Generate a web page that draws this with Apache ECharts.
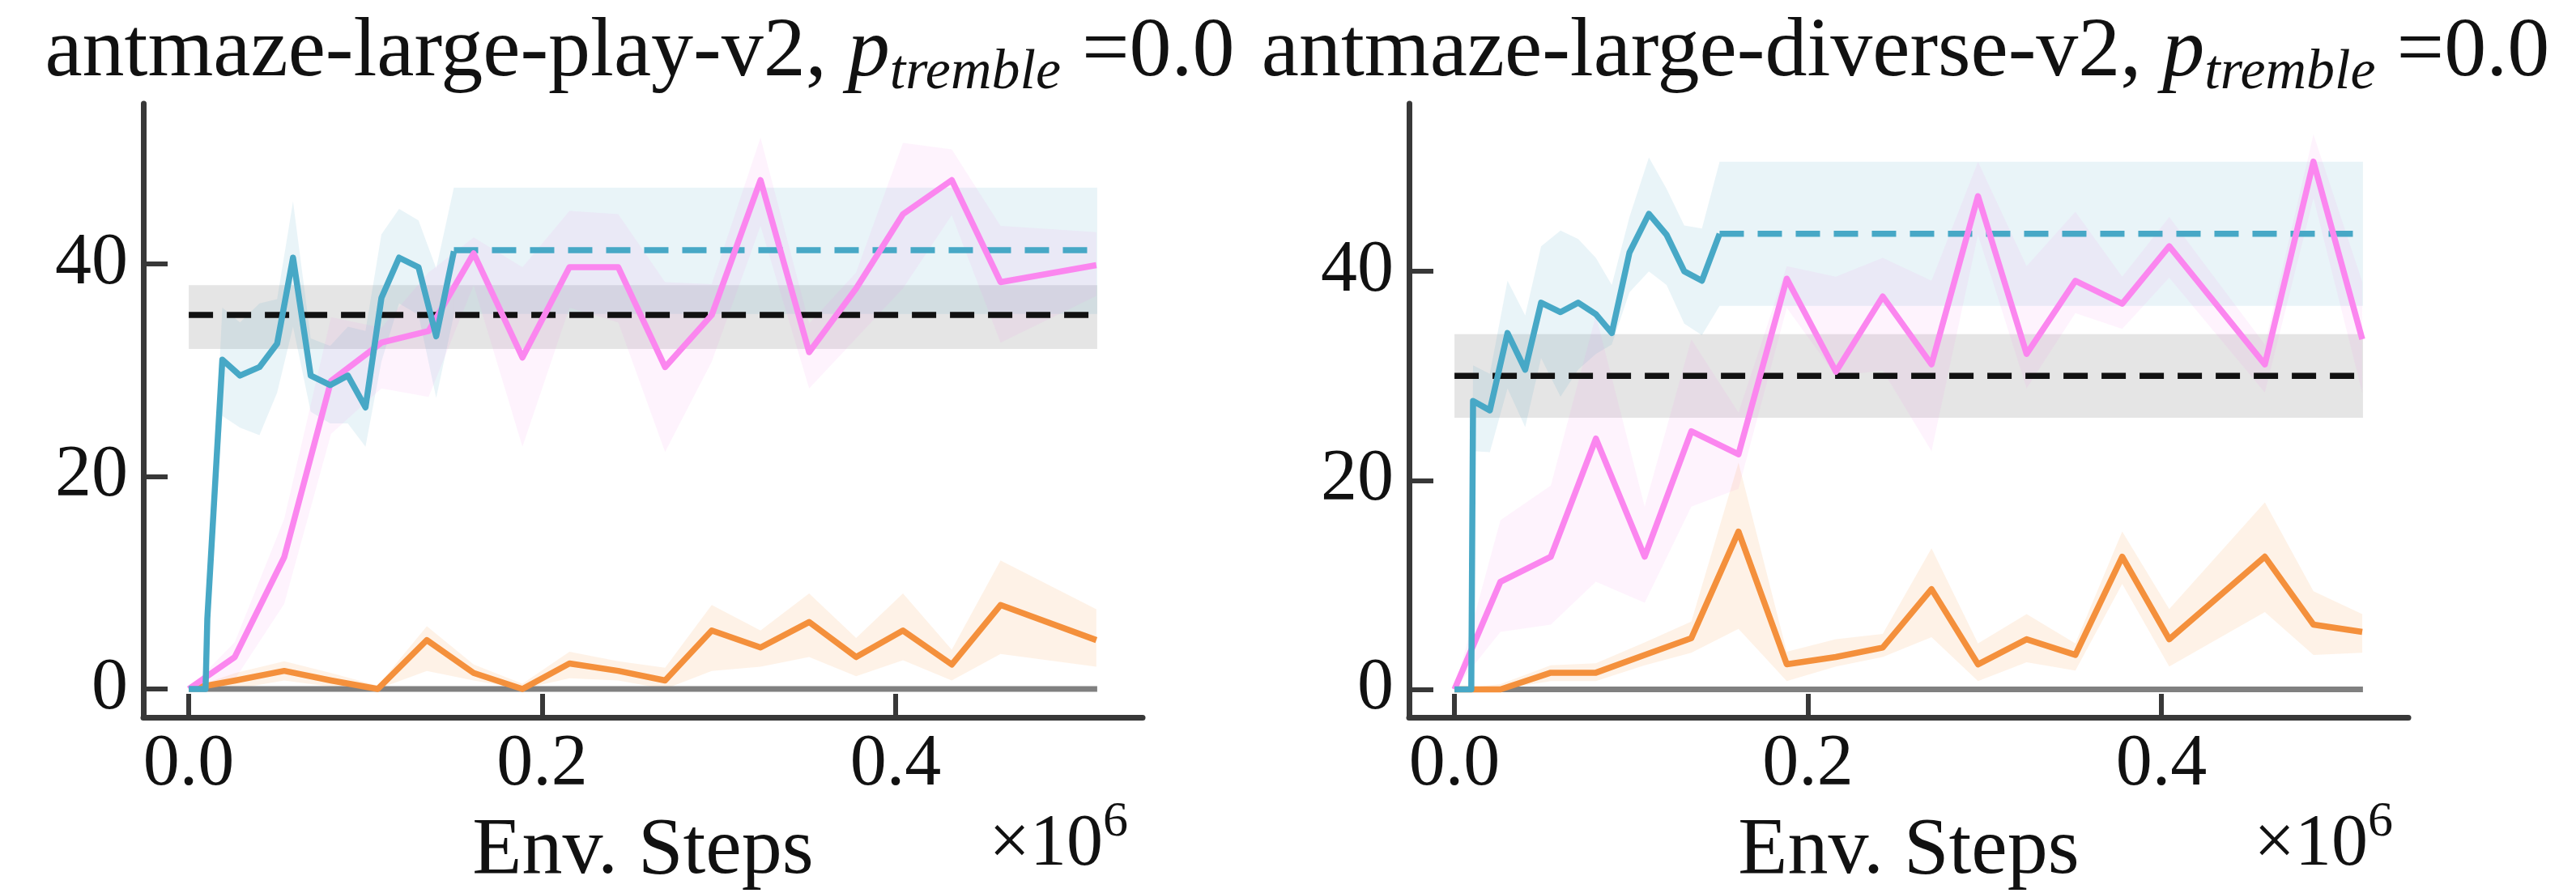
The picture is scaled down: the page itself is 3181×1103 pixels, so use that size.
<!DOCTYPE html>
<html>
<head>
<meta charset="utf-8">
<script src="https://cdn.jsdelivr.net/npm/echarts@6/dist/echarts.min.js"></script>
<style>
html,body{margin:0;padding:0;background:#fff}
#chart{width:3181px;height:1103px}
</style>
</head>
<body>
<div id="chart"></div>
<script>
// tick labels
var xTicks = [0, 0.2, 0.4];
var yTicks = [0, 20, 40];

// ---- antmaze-large-play-v2 ----
var playBlueX  = [0, 0.0095, 0.0105, 0.019, 0.029, 0.040, 0.050, 0.059, 0.069, 0.080, 0.090, 0.100, 0.109, 0.119, 0.130, 0.140, 0.150];
var playBlueY  = [0, 0, 6.6, 31.0, 29.5, 30.3, 32.5, 40.6, 29.5, 28.6, 29.5, 26.5, 36.8, 40.6, 39.7, 33.2, 41.2];
var playBlueHi = [0, 0, 6.8, 35.9, 34.5, 36.3, 36.7, 45.9, 33.0, 32.3, 34.1, 33.7, 42.8, 45.2, 44.1, 39.6, 47.2];
var playBlueLo = [0, 0, 6.4, 25.7, 24.6, 23.9, 27.9, 34.1, 26.1, 25.0, 25.0, 22.8, 30.8, 36.3, 35.2, 27.4, 35.2];

var playPinkX  = [0, 0.026, 0.054, 0.0805, 0.109, 0.1357, 0.1612, 0.1888, 0.2154, 0.243, 0.2695, 0.2959, 0.3235, 0.351, 0.3776, 0.4041, 0.4317, 0.4593, 0.5135];
var playPinkY  = [0, 3.0, 12.4, 29.0, 32.6, 33.7, 41.0, 31.2, 39.7, 39.7, 30.3, 35.2, 47.9, 31.7, 37.7, 44.7, 47.9, 38.3, 39.9];
var playPinkHi = [0, 4.4, 16.0, 35.0, 34.0, 39.2, 42.5, 39.7, 45.0, 44.7, 38.3, 38.1, 51.9, 34.4, 39.2, 51.4, 50.8, 43.6, 43.0];
var playPinkLo = [0, 0.9, 8.0, 24.0, 28.3, 27.5, 38.0, 22.8, 35.9, 34.5, 22.3, 30.8, 43.6, 28.3, 33.0, 37.7, 44.6, 32.6, 37.0];

var playOrangeX  = [0, 0.0264, 0.054, 0.0805, 0.107, 0.1347, 0.1612, 0.1888, 0.2154, 0.243, 0.2695, 0.2959, 0.3235, 0.351, 0.3776, 0.4041, 0.4317, 0.4593, 0.5135];
var playOrangeY  = [0, 0.8, 1.7, 0.8, 0, 4.6, 1.5, 0, 2.4, 1.7, 0.8, 5.5, 3.9, 6.3, 3.0, 5.5, 2.3, 7.9, 4.6];
var playOrangeHi = [0, 1.5, 2.6, 1.5, 0.3, 5.9, 2.3, 0.5, 3.5, 2.6, 2.0, 7.9, 5.5, 9.0, 4.8, 9.0, 3.7, 12.1, 7.5];
var playOrangeLo = [0, 0, 0.8, 0.2, 0, 1.7, 0.8, 0, 1.0, 0.8, 0, 1.7, 2.1, 3.0, 1.2, 2.7, 0.8, 3.3, 2.1];

var playRefX  = [0, 0.514];
var playRefY  = [35.2, 35.2];
var playRefHi = [38.0, 38.0];
var playRefLo = [32.0, 32.0];

var playFinalX  = [0.15, 0.514];
var playFinalY  = [41.3, 41.3];
var playFinalHi = [47.2, 47.2];
var playFinalLo = [35.3, 35.3];

// ---- antmaze-large-diverse-v2 ----
var divBlueX  = [0, 0.0095, 0.0105, 0.020, 0.030, 0.040, 0.049, 0.060, 0.070, 0.080, 0.089, 0.099, 0.110, 0.120, 0.130, 0.140, 0.150];
var divBlueY  = [0, 0, 27.6, 26.7, 34.1, 30.6, 37.0, 36.1, 37.0, 35.9, 34.1, 41.8, 45.5, 43.5, 40.0, 39.1, 43.6];
var divBlueHi = [0, 0, 31.0, 30.2, 39.1, 35.8, 42.4, 43.9, 43.1, 41.3, 38.7, 45.2, 50.9, 47.9, 44.4, 44.1, 50.5];
var divBlueLo = [0, 0, 22.8, 22.7, 28.8, 25.1, 31.7, 28.0, 30.6, 32.1, 33.0, 38.0, 40.0, 38.7, 35.0, 33.9, 36.7];

var divPinkX  = [0, 0.026, 0.0545, 0.080, 0.1076, 0.134, 0.1607, 0.188, 0.2158, 0.2423, 0.2699, 0.2962, 0.3237, 0.3513, 0.3778, 0.4044, 0.4585, 0.486, 0.5136];
var divPinkY  = [0, 10.3, 12.7, 24.0, 12.7, 24.7, 22.5, 39.3, 30.4, 37.6, 31.1, 47.2, 32.1, 39.1, 36.9, 42.4, 31.1, 50.5, 33.5];
var divPinkHi = [0, 16.2, 19.5, 35.8, 17.5, 33.5, 26.5, 40.5, 39.5, 41.3, 39.1, 50.5, 40.5, 45.7, 39.5, 45.2, 33.0, 53.1, 39.0];
var divPinkLo = [0, 5.5, 6.2, 10.3, 8.3, 17.5, 19.2, 36.5, 30.0, 30.5, 22.8, 43.5, 28.8, 36.0, 34.5, 39.4, 28.4, 47.0, 28.4];

var divOrangeX  = [0, 0.026, 0.0545, 0.080, 0.1076, 0.134, 0.1607, 0.188, 0.2158, 0.2423, 0.2699, 0.2962, 0.3237, 0.3513, 0.3778, 0.4044, 0.4585, 0.486, 0.5136];
var divOrangeY  = [0, 0, 1.6, 1.6, 3.3, 4.9, 15.1, 2.4, 3.1, 4.0, 9.6, 2.4, 4.8, 3.3, 12.7, 4.8, 12.7, 6.2, 5.5];
var divOrangeHi = [0, 0.5, 2.3, 2.5, 4.5, 6.5, 21.7, 3.6, 4.8, 5.3, 13.5, 4.4, 7.2, 4.4, 15.1, 7.7, 17.9, 9.4, 7.2];
var divOrangeLo = [0, 0, 0.8, 0.8, 2.3, 3.5, 5.8, 0.8, 2.2, 3.1, 5.0, 0.8, 2.6, 1.8, 10.1, 2.2, 7.4, 3.3, 3.5];

var divRefX  = [0, 0.514];
var divRefY  = [30.0, 30.0];
var divRefHi = [34.0, 34.0];
var divRefLo = [26.0, 26.0];

var divFinalX  = [0.15, 0.514];
var divFinalY  = [43.6, 43.6];
var divFinalHi = [50.5, 50.5];
var divFinalLo = [36.7, 36.7];

var zeroX = [0, 0.514];
var zeroY = [0, 0];

var FONT = 'Liberation Serif';
var AXIS = '#383838';
var BLUE = '#47a8c6', PINK = '#fb86ef', ORANGE = '#f4903c';

function pairs(xs, ys) {
	return xs.map(function (x, i) { return [x, ys[i]]; });
}

// shaded band between lo and hi, drawn as one polygon through the axes
function band(k, xs, lo, hi, fill) {
	return {
		type: 'custom', xAxisIndex: k, yAxisIndex: k, silent: true, z: 1,
		data: [0],
		renderItem: function (params, api) {
			var pts = [];
			for (var i = 0; i < xs.length; i++) pts.push(api.coord([xs[i], hi[i]]));
			for (var j = xs.length - 1; j >= 0; j--) pts.push(api.coord([xs[j], lo[j]]));
			return { type: 'polygon', shape: { points: pts }, style: { fill: fill } };
		}
	};
}

function curve(k, xs, ys, color, dashed, width) {
	return {
		type: 'line', xAxisIndex: k, yAxisIndex: k, silent: true, z: 3,
		symbol: 'none', showSymbol: false,
		data: pairs(xs, ys),
		lineStyle: { color: color, width: width || 7.5, type: dashed ? [30, 17] : 'solid', join: 'round', cap: 'butt' }
	};
}

function panelSeries(k, d) {
	return [
		band(k, d.refX, d.refLo, d.refHi, 'rgba(150,150,150,0.25)'),
		band(k, d.finalX, d.finalLo, d.finalHi, 'rgba(72,168,198,0.12)'),
		band(k, d.blueX, d.blueLo, d.blueHi, 'rgba(72,168,198,0.12)'),
		band(k, d.pinkX, d.pinkLo, d.pinkHi, 'rgba(250,136,238,0.10)'),
		band(k, d.orangeX, d.orangeLo, d.orangeHi, 'rgba(244,144,60,0.12)'),
		curve(k, zeroX, zeroY, '#808080', false, 7),
		curve(k, d.refX, d.refY, '#111111', true, 7.5),
		curve(k, d.finalX, d.finalY, BLUE, true, 7.5),
		curve(k, d.orangeX, d.orangeY, ORANGE, false),
		curve(k, d.pinkX, d.pinkY, PINK, false),
		curve(k, d.blueX, d.blueY, BLUE, false)
	];
}

function xAxisFor(k) {
	return {
		type: 'value', gridIndex: k, min: -0.0257, max: 0.5397,
		name: 'Env. Steps', nameLocation: 'middle', nameGap: 116,
		nameTextStyle: { fontFamily: FONT, fontSize: 100, lineHeight: 100, color: '#111' },
		axisLine: { show: true, onZero: false, lineStyle: { color: AXIS, width: 7 } },
		axisTick: { show: true, inside: true, length: 29, customValues: xTicks, lineStyle: { color: AXIS, width: 6 } },
		axisLabel: {
			customValues: xTicks, margin: 14,
			formatter: function (v) { return v.toFixed(1); },
			fontFamily: FONT, fontSize: 90, lineHeight: 90, color: '#111'
		},
		splitLine: { show: false }
	};
}

function yAxisFor(k, max) {
	return {
		type: 'value', gridIndex: k, min: -2.67, max: max,
		axisLine: { show: true, onZero: false, lineStyle: { color: AXIS, width: 7 } },
		axisTick: { show: true, inside: true, length: 30, customValues: yTicks, lineStyle: { color: AXIS, width: 6 } },
		axisLabel: {
			customValues: yTicks, margin: 19, padding: [18, 0, 0, 0],
			fontFamily: FONT, fontSize: 90, lineHeight: 90, color: '#111'
		},
		splitLine: { show: false }
	};
}

var titleRich = {
	a: { fontFamily: FONT, fontSize: 104, fontWeight: 'normal', lineHeight: 124, color: '#111', verticalAlign: 'middle' },
	i: { fontFamily: FONT, fontSize: 104, fontWeight: 'normal', lineHeight: 124, fontStyle: 'italic', color: '#111', verticalAlign: 'middle' },
	s: { fontFamily: FONT, fontSize: 70, fontWeight: 'normal', lineHeight: 70, fontStyle: 'italic', color: '#111', padding: [50, 0, 0, 0], verticalAlign: 'middle' }
};
var expRich = {
	m: { fontFamily: FONT, fontSize: 90, fontWeight: 'normal', lineHeight: 100, color: '#111', verticalAlign: 'middle' },
	u: { fontFamily: FONT, fontSize: 62, fontWeight: 'normal', lineHeight: 62, color: '#111', padding: [0, 0, 56, 0], verticalAlign: 'middle' }
};

var play = {
	blueX: playBlueX, blueY: playBlueY, blueHi: playBlueHi, blueLo: playBlueLo,
	pinkX: playPinkX, pinkY: playPinkY, pinkHi: playPinkHi, pinkLo: playPinkLo,
	orangeX: playOrangeX, orangeY: playOrangeY, orangeHi: playOrangeHi, orangeLo: playOrangeLo,
	refX: playRefX, refY: playRefY, refHi: playRefHi, refLo: playRefLo,
	finalX: playFinalX, finalY: playFinalY, finalHi: playFinalHi, finalLo: playFinalLo
};
var diverse = {
	blueX: divBlueX, blueY: divBlueY, blueHi: divBlueHi, blueLo: divBlueLo,
	pinkX: divPinkX, pinkY: divPinkY, pinkHi: divPinkHi, pinkLo: divPinkLo,
	orangeX: divOrangeX, orangeY: divOrangeY, orangeHi: divOrangeHi, orangeLo: divOrangeLo,
	refX: divRefX, refY: divRefY, refHi: divRefHi, refLo: divRefLo,
	finalX: divFinalX, finalY: divFinalY, finalHi: divFinalHi, finalLo: divFinalLo
};

var chart = echarts.init(document.getElementById('chart'));
var option = {
	backgroundColor: '#ffffff',
	animation: false,
	title: [
		{ text: '{a|antmaze-large-play-v2, }{i|p}{s|tremble}{a| =0.0}', left: 790, top: 4, textAlign: 'center', padding: 0, textStyle: { fontWeight: 'normal', fontFamily: FONT, rich: titleRich } },
		{ text: '{a|antmaze-large-diverse-v2, }{i|p}{s|tremble}{a| =0.0}', left: 2353, top: 4, textAlign: 'center', padding: 0, textStyle: { fontWeight: 'normal', fontFamily: FONT, rich: titleRich } },
		{ text: '{m|×10}{u|6}', left: 1393, top: 994, textAlign: 'right', padding: 0, textStyle: { fontWeight: 'normal', fontFamily: FONT, rich: expRich } },
		{ text: '{m|×10}{u|6}', left: 2955, top: 994, textAlign: 'right', padding: 0, textStyle: { fontWeight: 'normal', fontFamily: FONT, rich: expRich } }
	],
	grid: [
		{ left: 177, top: 128, width: 1234, height: 758, outerBoundsMode: 'none' },
		{ left: 1740, top: 128, width: 1234, height: 758, outerBoundsMode: 'none' }
	],
	xAxis: [xAxisFor(0), xAxisFor(1)],
	yAxis: [yAxisFor(0, 55.1), yAxisFor(1, 56.05)],
	series: panelSeries(0, play).concat(panelSeries(1, diverse))
};
chart.setOption(option);
</script>
</body>
</html>
